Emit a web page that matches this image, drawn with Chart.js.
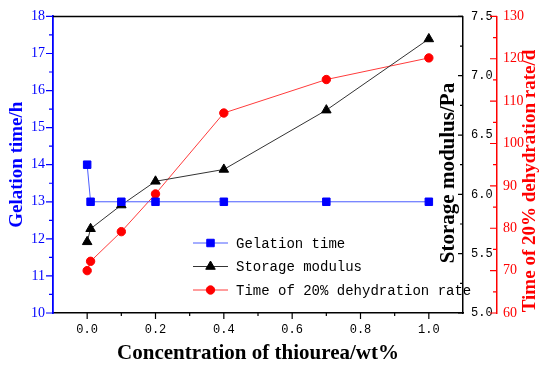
<!DOCTYPE html>
<html>
<head>
<meta charset="utf-8">
<script src="https://cdn.jsdelivr.net/npm/chart.js@4/dist/chart.umd.min.js"></script>
<style>
html, body { margin: 0; padding: 0; background: #fff; }
</style>
</head>
<body>
<canvas id="chart" width="550" height="373"></canvas>
<script>
// values
const concentration = [0, 0.01, 0.1, 0.2, 0.4, 0.7, 1.0];
const gelationTime = [14, 13, 13, 13, 13, 13, 13];
const storageModulus = [5.60, 5.71, 5.91, 6.11, 6.21, 6.71, 7.31];
const dehydrationTime = [70.0, 72.2, 79.2, 88.1, 107.2, 115.1, 120.2];
const seriesNames = ['Gelation time', 'Storage modulus', 'Time of 20% dehydration rate'];

const xTicks = [0, 0.2, 0.4, 0.6, 0.8, 1.0];
const gelTicks = [10, 11, 12, 13, 14, 15, 16, 17, 18];
const modTicks = [5.0, 5.5, 6.0, 6.5, 7.0, 7.5];
const dehTicks = [60, 70, 80, 90, 100, 110, 120, 130];

const BLUE = '#0000ff', RED = '#ff0000';

const pts = (ys) => concentration.map((x, i) => ({x: x, y: ys[i]}));
const mids = (arr) => arr.slice(1).map((v, i) => (v + arr[i]) / 2);

function marks(ctx, scale, values, len, side, colour) {
    ctx.strokeStyle = colour;
    ctx.lineWidth = 1.2;
    ctx.beginPath();
    values.forEach(v => {
        const p = scale.getPixelForValue(v);
        if (scale.isHorizontal()) {
            ctx.moveTo(p, scale.top);
            ctx.lineTo(p, scale.top + len * side);
        } else {
            const x0 = scale.position === 'left' ? scale.right : scale.left;
            ctx.moveTo(x0, p);
            ctx.lineTo(x0 + len * side, p);
        }
    });
    ctx.stroke();
}

function sideTitle(ctx, text, x, y, font, colour) {
    ctx.save();
    ctx.translate(x, y);
    ctx.rotate(-Math.PI / 2);
    ctx.font = font;
    ctx.fillStyle = colour;
    ctx.textAlign = 'center';
    ctx.textBaseline = 'middle';
    ctx.fillText(text, 0, 0);
    ctx.restore();
}

const extras = {
    id: 'extras',
    afterDraw(chart) {
        const {ctx, chartArea: a, scales} = chart;
        ctx.save();
        // top frame
        ctx.strokeStyle = '#000';
        ctx.lineWidth = 1.5;
        ctx.beginPath();
        ctx.moveTo(a.left, a.top);
        ctx.lineTo(a.right, a.top);
        ctx.stroke();

        marks(ctx, scales.x, xTicks, 6, 1, '#000');
        marks(ctx, scales.x, mids(xTicks), 3, 1, '#000');
        marks(ctx, scales.y, gelTicks, 7, -1, BLUE);
        marks(ctx, scales.y, mids(gelTicks), 4, -1, BLUE);
        marks(ctx, scales.y1, modTicks, 5, -1, '#000');
        marks(ctx, scales.y1, mids(modTicks), 3, -1, '#000');
        marks(ctx, scales.y2, dehTicks, 7, -1, RED);
        marks(ctx, scales.y2, mids(dehTicks), 4, -1, RED);

        sideTitle(ctx, 'Storage modulus/Pa', 449, 173, 'bold 21px "Liberation Serif"', '#000');
        sideTitle(ctx, 'Time of 20% dehydration rate/d', 530, 181, 'bold 19px "Liberation Serif"', RED);

        // legend
        ctx.font = '14px "Liberation Mono"';
        ctx.textBaseline = 'middle';
        ctx.textAlign = 'left';
        chart.data.datasets.forEach((ds, i) => {
            const y = 243 + i * 23.5;
            ctx.strokeStyle = ds.borderColor;
            ctx.lineWidth = 1;
            ctx.beginPath();
            ctx.moveTo(193, y);
            ctx.lineTo(228, y);
            ctx.stroke();
            ctx.fillStyle = ds.pointBackgroundColor;
            ctx.strokeStyle = ds.pointBorderColor;
            Chart.helpers.drawPoint(ctx, {pointStyle: ds.pointStyle, radius: ds.pointRadius, borderWidth: 1}, 210.5, y);
            ctx.fillStyle = '#000';
            ctx.fillText(ds.label, 236, y + 1);
        });
        ctx.restore();
    }
};

new Chart(document.getElementById('chart'), {
    type: 'line',
    data: {
        datasets: [{
            label: seriesNames[0],
            data: pts(gelationTime),
            yAxisID: 'y',
            borderColor: '#4a5cff',
            borderWidth: 1,
            pointStyle: 'rect',
            pointRadius: 5.3,
            pointBackgroundColor: BLUE,
            pointBorderColor: BLUE,
            pointBorderWidth: 1
        }, {
            label: seriesNames[1],
            data: pts(storageModulus),
            yAxisID: 'y1',
            borderColor: '#333333',
            borderWidth: 1,
            pointStyle: 'triangle',
            pointRadius: 5.5,
            pointBackgroundColor: '#000',
            pointBorderColor: '#000',
            pointBorderWidth: 1
        }, {
            label: seriesNames[2],
            data: pts(dehydrationTime),
            yAxisID: 'y2',
            borderColor: '#ff3b3b',
            borderWidth: 1,
            pointStyle: 'circle',
            pointRadius: 4.2,
            pointBackgroundColor: RED,
            pointBorderColor: RED,
            pointBorderWidth: 1
        }]
    },
    options: {
        responsive: false,
        animation: false,
        layout: {padding: {top: 13, left: 0, right: 0, bottom: 0}},
        plugins: {legend: {display: false}, tooltip: {enabled: false}},
        scales: {
            x: {
                type: 'linear',
                min: -0.1,
                max: 1.1,
                afterBuildTicks: s => { s.ticks = xTicks.map(v => ({value: v})); },
                afterFit: s => { s.height = 60; },
                grid: {drawOnChartArea: false, drawTicks: false},
                border: {color: '#000', width: 1.5},
                ticks: {
                    padding: 10,
                    color: '#000',
                    font: {family: 'Liberation Mono', size: 12},
                    callback: v => Number(v).toFixed(1)
                },
                title: {
                    display: true,
                    text: 'Concentration of thiourea/wt%',
                    color: '#000',
                    font: {family: 'Liberation Serif', size: 21, weight: 'bold'},
                    padding: {top: 0, bottom: 7}
                }
            },
            y: {
                position: 'left',
                min: 10,
                max: 18,
                afterBuildTicks: s => { s.ticks = gelTicks.map(v => ({value: v})); },
                afterFit: s => { s.width = 53; },
                grid: {drawOnChartArea: false, drawTicks: false},
                border: {color: BLUE, width: 1.8},
                ticks: {
                    padding: 8,
                    color: BLUE,
                    font: {family: 'Liberation Serif', size: 14}
                },
                title: {
                    display: true,
                    text: 'Gelation time/h',
                    color: BLUE,
                    font: {family: 'Liberation Serif', size: 19, weight: 'bold'},
                    padding: {top: 6, bottom: 0}
                }
            },
            y1: {
                position: 'right',
                min: 5,
                max: 7.5,
                afterBuildTicks: s => { s.ticks = modTicks.map(v => ({value: v})); },
                afterFit: s => { s.width = 34; },
                grid: {drawOnChartArea: false, drawTicks: false},
                border: {color: '#000', width: 1.5},
                ticks: {
                    padding: 8,
                    color: '#000',
                    font: {family: 'Liberation Mono', size: 12},
                    callback: v => Number(v).toFixed(1)
                }
            },
            y2: {
                position: 'right',
                min: 60,
                max: 130,
                afterBuildTicks: s => { s.ticks = dehTicks.map(v => ({value: v})); },
                afterFit: s => { s.width = 53; },
                grid: {drawOnChartArea: false, drawTicks: false},
                border: {color: RED, width: 1.5},
                ticks: {
                    padding: 6,
                    color: RED,
                    font: {family: 'Liberation Serif', size: 14}
                }
            }
        }
    },
    plugins: [extras]
});
</script>
</body>
</html>
